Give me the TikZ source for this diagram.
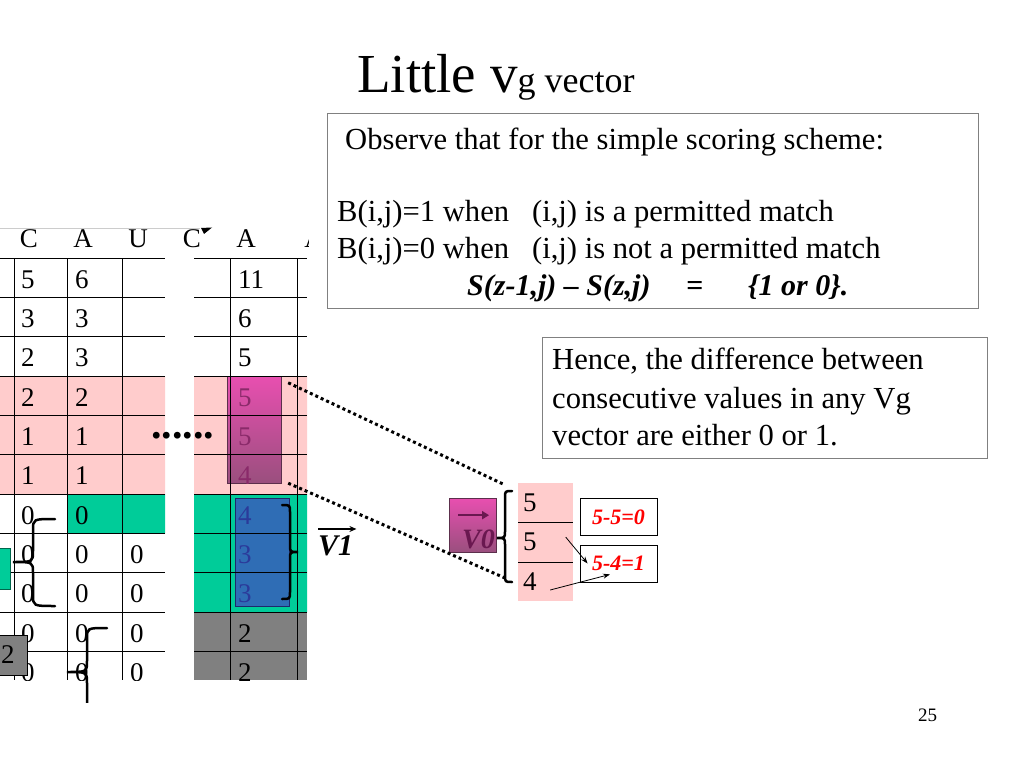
\documentclass[tikz,border=0pt]{standalone}
\usepackage{fontspec}
\setmainfont{Liberation Serif}
\usepackage{tikz}
\usetikzlibrary{positioning,arrows.meta,shapes}

\definecolor{cellpink}{HTML}{FFCCCC}
\definecolor{cellgreen}{HTML}{00CC99}
\definecolor{cellgray}{HTML}{808080}
\definecolor{magtop}{HTML}{E84FB0}
\definecolor{magbot}{HTML}{9A4F7E}
\definecolor{magtext}{HTML}{8A2A6A}
\definecolor{bluefill}{HTML}{2F6DB5}
\definecolor{bluetext}{HTML}{2B3A9A}
\definecolor{vdark}{HTML}{6A1850}
\newcommand{\fs}[1]{\fontsize{#1}{#1}\selectfont}

\begin{document}
\begin{tikzpicture}
[x=1pt,y=-1pt]
\tikzset{
	txt/.style = {inner sep=0, anchor=base west, font=\fs{30.6}},
	bitxt/.style = {inner sep=0, anchor=base west, font=\fs{30}\bfseries\itshape},
	cell/.style = {inner sep=0, anchor=base west, font=\fs{27}},
	panel/.style = {draw=gray, line width=1pt, inner sep=0},
	vecbox/.style = {draw=magbot!60!black, top color=magtop, bottom color=magbot, inner sep=0},
	pcell/.style = {fill=cellpink, minimum width=55, minimum height=39, inner xsep=5, inner ysep=0, text width=45, align=left, font=\fs{27}},
	diffbox/.style = {draw, line width=0.8pt, minimum width=77, minimum height=37, inner sep=0, font=\fs{22}\bfseries\itshape, text=red},
	gridline/.style = {line width=0.9pt},
	bracepath/.style = {line width=2.5pt, line cap=round},
	dotline/.style = {line width=3pt, dash pattern=on 3pt off 3pt}
}
\useasboundingbox[fill=white] (0,0) rectangle (1023,767);

\node[inner sep=0, anchor=base west] (title) at (357,93) {\fs{55}Little v\fs{36}g vector};

\node[panel, minimum width=651, minimum height=195] (obs) at (652.5,211.5) {};
\node[txt] (obs-1) at (345,150) {Observe that for the simple scoring scheme:};
\node[txt] (obs-2) at (337,222) {B(i,j)=1 when \ \ (i,j) is a permitted match};
\node[txt] (obs-3) at (337,259) {B(i,j)=0 when \ \ (i,j) is not a permitted match};
\node[bitxt] (obs-4) at (467,296) {S(z-1,j) – S(z,j)};
\node[bitxt] (obs-5) at (686,296) {=};
\node[bitxt] (obs-6) at (748,296) {\{1 or 0\}.};

\node[panel, minimum width=445, minimum height=120] (hence) at (764.5,398) {};
\node[txt] (hence-1) at (552,370) {Hence, the difference between};
\node[txt] (hence-2) at (552,408) {consecutive values in any Vg};
\node[txt] (hence-3) at (552,445) {vector are either 0 or 1.};

% score table
\begin{scope}
\clip (0,222) rectangle (308,680);
\draw[gray!40, line width=0.8pt] (0,228) -- (200,228);
\fill[cellpink] (0,376.2) rectangle (165,494.1) (194,376.2) rectangle (307,494.1);
\fill[cellgreen] (67.7,494.1) rectangle (165,533.4) (194,494.1) rectangle (307,612.3);
\fill[cellgray] (194,612.3) rectangle (307,680);
\node[vecbox, minimum width=54, minimum height=107] (mag) at (254,429.5) {};
\node[draw=bluetext!70!black, fill=bluefill, minimum width=54, minimum height=108, inner sep=0] (blu) at (262,552) {};
\foreach \k in {0,...,10}
	\draw[gridline] (0,258.3+39.3*\k) -- (165,258.3+39.3*\k) (194,258.3+39.3*\k) -- (307,258.3+39.3*\k);
\foreach \x in {14,67.7,122.3,230.7,297.7}
	\draw[gridline] (\x,258.3) -- (\x,680);
\foreach \h/\x in {C/29,A/83,U/138,C/192,A/246,A/314}
	\node[inner sep=0, font=\fs{27}, anchor=base] (h-\x) at (\x,248) {\h};
\fill (201,228) -- (212,227.5) -- (204,234) -- cycle;
\foreach \a/\b [count=\r] in {5/6,3/3,2/3,2/2,1/1,1/1,0/0,0/0,0/0,0/0,0/0}{
	\node[cell] (a-\r) at (21,249+39.3*\r) {\a};
	\node[cell] (b-\r) at (75,249+39.3*\r) {\b};
}
\foreach \r in {8,...,11}
	\node[cell] (c-\r) at (130,249+39.3*\r) {0};
\foreach \v/\c [count=\r] in {11/black,6/black,5/black,5/magtext,5/magtext,4/magtext,4/bluetext,3/bluetext,3/bluetext,2/black,2/black}
	\node[cell, text=\c] (e-\r) at (238,249+39.3*\r) {\v};
\end{scope}

\node[inner sep=0, anchor=base west, font=\fs{42}\bfseries] (dots) at (151,438) {......};

\node[draw=cellgreen!50!black, fill=cellgreen, minimum width=30, minimum height=41, inner sep=0] (gbox) at (-5,568.5) {};
\node[draw, fill=cellgray, minimum width=47, minimum height=40, inner sep=0] (gray2) at (3.5,655) {};
\node[inner sep=0, font=\fs{27}] (two) at (8,655) {2};

\draw[bracepath] (55,519) .. controls (33,519) .. (33,530) -- (33,551) .. controls (33,562) .. (13,562)
	.. controls (33,562) .. (33,573) -- (33,595) .. controls (33,606) .. (55,606);
\begin{scope}
\clip (40,600) rectangle (140,702);
\draw[bracepath] (107,628) .. controls (87,628) .. (87,639) -- (87,661) .. controls (87,672) .. (67,672)
	.. controls (87,672) .. (87,683) -- (87,705) .. controls (87,716) .. (107,716);
\end{scope}
\draw[bracepath] (282,505) .. controls (290,505) .. (290,512) -- (290,545) .. controls (290,552) .. (298,552)
	.. controls (290,552) .. (290,559) -- (290,592) .. controls (290,599) .. (282,599);

\node[bitxt] (v1) at (318,555) {V1};
\draw[line width=1.2pt, -{Stealth[length=7pt,width=6pt]}] ([shift={(0,-6)}]v1.north west) -- ([shift={(3,-6)}]v1.north east);

% V0 column
\node[vecbox, minimum width=47, minimum height=54] (v0box) at (472.5,525) {};
\node[bitxt, text=vdark, font=\fs{28}\bfseries\itshape] (v0) at (462,548) {V0};
\draw[vdark, line width=2pt, -{Triangle[length=7pt,width=8pt]}] ([shift={(-4,-14)}]v0.north west) -- ([shift={(-6,-14)}]v0.north east);
\draw[bracepath] (512,491) .. controls (505,491) .. (505,498) -- (505,531) .. controls (505,538) .. (497,538)
	.. controls (505,538) .. (505,545) -- (505,575) .. controls (505,582) .. (512,582);

\node[pcell, anchor=north west] (p-1) at (518,483) {5};
\node[pcell, below=0 of p-1] (p-2) {5};
\node[pcell, below=0 of p-2] (p-3) {4};
\draw (p-1.south west) -- (p-1.south east);
\draw (p-2.south west) -- (p-2.south east);

\node[diffbox] (d-1) at (618.5,517) {5-5=0};
\node[diffbox] (d-2) at (618.5,563.5) {5-4=1};
\draw[line width=0.8pt, -{Stealth[length=7pt,width=5pt]}] ([shift={(20,-5)}]p-2.center) -- ([xshift=8pt]d-2.west);
\draw[line width=0.8pt, -{Stealth[length=7pt,width=5pt]}] ([shift={(4.5,8.5)}]p-3.center) -- ([shift={(-8.5,-8)}]d-2.south);

\coordinate (v0top) at (503,484);
\coordinate (v0bot) at (505,578);
\draw[dotline] ([shift={(7,7)}]mag.north east) -- (v0top);
\draw[dotline] ([shift={(7,0)}]mag.south east) -- (v0bot);

\node[inner sep=0, anchor=base west, font=\fs{19}] (page) at (918,721) {25};

\end{tikzpicture}
\end{document}
